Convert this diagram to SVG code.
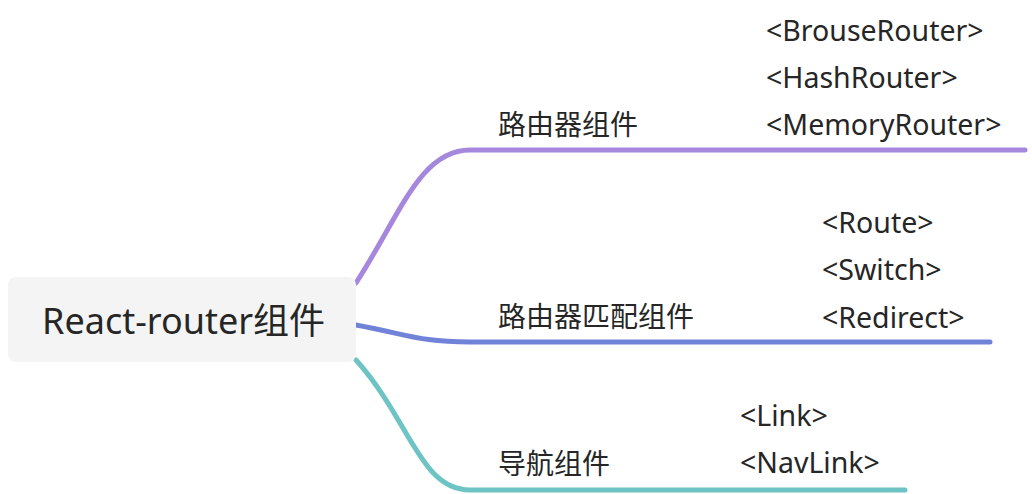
<svg xmlns="http://www.w3.org/2000/svg" width="1032" height="494" viewBox="0 0 1032 494">
<style>
text{font-family:"Noto Sans","Noto Sans CJK SC",sans-serif;fill:#262626;font-size:28px}
.t{font-size:28.5px}
.root{font-size:36px}
.c{fill:none;stroke-width:5;stroke-linecap:round}
</style>
<rect width="1032" height="494" fill="#ffffff"/>
<g id="connectors">
<path class="c" stroke="#a588de" d="M356,283 C400,215 420,150 470,150 L1025,150"/>
<path class="c" stroke="#7183d9" d="M356,325 C410,335 420,342 470,342 L990,342"/>
<path class="c" stroke="#6ec4c4" d="M356,360 C410,420 420,490 470,490 L905,490"/>
</g>
<g id="root">
<rect x="8" y="277" width="348" height="85" rx="8" fill="#f4f4f4"/>
<text class="root" x="42" y="334">React-router组件</text>
</g>
<g id="router">
<text x="498" y="135">路由器组件</text>
<text class="t" x="766" y="41">&lt;BrouseRouter&gt;</text>
<text class="t" x="766" y="88">&lt;HashRouter&gt;</text>
<text class="t" x="766" y="135">&lt;MemoryRouter&gt;</text>
</g>
<g id="match">
<text x="498" y="327">路由器匹配组件</text>
<text class="t" x="822" y="233">&lt;Route&gt;</text>
<text class="t" x="822" y="280">&lt;Switch&gt;</text>
<text class="t" x="822" y="328">&lt;Redirect&gt;</text>
</g>
<g id="nav">
<text x="498" y="474">导航组件</text>
<text class="t" x="740" y="426">&lt;Link&gt;</text>
<text class="t" x="740" y="473">&lt;NavLink&gt;</text>
</g>
</svg>
